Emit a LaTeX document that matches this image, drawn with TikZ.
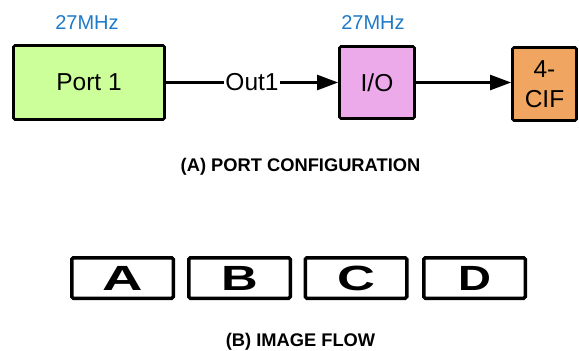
\documentclass[tikz,border=0pt]{standalone}
\usepackage{fontspec}
\setmainfont{Liberation Sans}
\usetikzlibrary{arrows.meta}
\definecolor{freqblue}{RGB}{30,122,200}
\definecolor{portgreen}{RGB}{204,255,153}
\definecolor{iopink}{RGB}{236,170,234}
\definecolor{ciforange}{RGB}{240,166,96}
\tikzset{
  blockbox/.style={draw=black, line width=2.8pt, rounded corners=1.5pt, inner sep=0pt, align=center,
    font=\fontsize{24.5}{30}\selectfont},
  freqlabel/.style={text=freqblue, font=\fontsize{20}{24}\selectfont, inner sep=0pt},
  caption/.style={font=\fontsize{18.3}{22}\selectfont\bfseries, inner sep=0pt},
  framebox/.style={draw=black, line width=3.5pt, rounded corners=1.5pt, minimum width=101.5pt,
    minimum height=40.5pt, inner sep=0pt},
  bigletter/.style={font=\fontsize{35}{40}\selectfont\bfseries},
  flow/.style={line width=2.5pt, -{Triangle[length=21pt,width=15pt]}},
}
\begin{document}
\begin{tikzpicture}[x=1pt,y=-1pt]
\useasboundingbox (0,0) rectangle (579,351);
\node[blockbox, fill=portgreen, minimum width=151pt, minimum height=74pt] (port) at (89,82.5) {Port 1};
\node[blockbox, fill=iopink, minimum width=75pt, minimum height=72pt] (io) at (377,82.5) {I/O};
\node[blockbox, fill=ciforange, minimum width=64pt, minimum height=73pt] (cif) at (544.5,84) {4-\\CIF};
\node[freqlabel] (f1) at (87,23) {27MHz};
\node[freqlabel] (f2) at (373,23) {27MHz};
\draw[flow] (port.east) -- node[fill=white, inner sep=1.5pt, font=\fontsize{24.5}{30}\selectfont] (out) {Out1} (io.west);
\draw[flow] (io.east) -- (io.east -| cif.west);
\node[caption] (capa) at (300.5,167) {(A) PORT CONFIGURATION};
\node[framebox] (ba) at (122.5,278) {};
\node[framebox] (bb) at (239.5,278) {};
\node[framebox] (bc) at (356,278) {};
\node[framebox] (bd) at (474.5,278) {};
\node[bigletter] (la) at (ba) {\scalebox{1.6}[1]{A}};
\node[bigletter] (lb) at (bb) {\scalebox{1.45}[1]{B}};
\node[bigletter] (lc) at (bc) {\scalebox{1.5}[1]{C}};
\node[bigletter] (ld) at (bd) {\scalebox{1.3}[1]{D}};
\node[caption] (capb) at (300.5,341.5) {(B) IMAGE FLOW};
\end{tikzpicture}
\end{document}
